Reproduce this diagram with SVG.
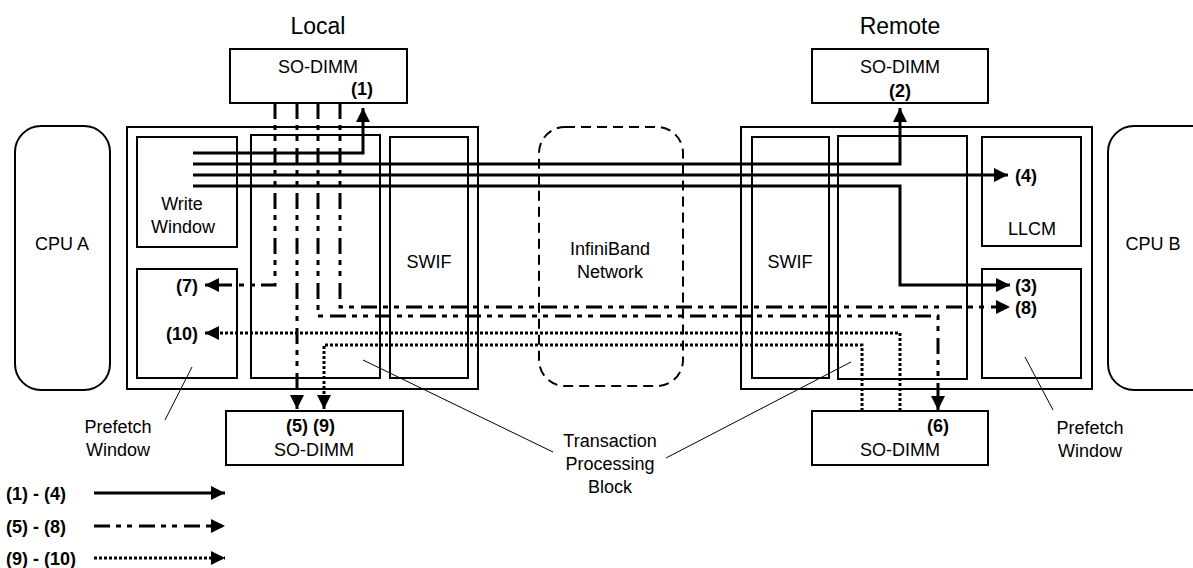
<svg xmlns="http://www.w3.org/2000/svg" width="1193" height="568" viewBox="0 0 1193 568">
<style>
  text { font-family: "Liberation Sans", Arial, sans-serif; fill: #000; }
  .t { font-size: 18px; text-anchor: middle; }
  .title { font-size: 23px; text-anchor: middle; }
  .lbl { font-size: 18px; font-weight: bold; }
  .box { fill: #fff; stroke: #000; stroke-width: 2; }
  .cpu { fill: #fff; stroke: #000; stroke-width: 2; }
  .net { fill: none; stroke: #000; stroke-width: 2; stroke-dasharray: 10 6; }
  .c { fill: none; stroke: #000; stroke-width: 3; }
  .solid { marker-end: url(#ah); }
  .dd { stroke-dasharray: 16 6 5 6 5 7; }
  .dot { stroke-dasharray: 3 2; }
  .lead { fill: none; stroke: #000; stroke-width: 1; }
</style>
<defs>
  <marker id="ah" markerUnits="userSpaceOnUse" markerWidth="14" markerHeight="14" refX="12" refY="6" orient="auto" viewBox="0 0 12 12">
    <path d="M0,0 L12,6 L0,12 Z" fill="#000"/>
  </marker>
</defs>
<rect width="1193" height="568" fill="#fff"/>

<text class="title" x="318" y="34">Local</text>
<text class="title" x="900" y="34">Remote</text>

<g id="cpu-a"><rect class="cpu" x="15" y="126" width="95" height="264" rx="26"/><text class="t" x="62" y="250">CPU A</text></g>
<g id="cpu-b"><rect class="cpu" x="1108" y="126" width="110" height="264" rx="26"/><text class="t" x="1153" y="250">CPU B</text></g>

<g id="local-block"><rect class="box" x="127" y="127" width="351" height="262"/></g>
<g id="local-write-window"><rect class="box" x="137" y="137" width="100" height="110"/><text class="t" x="182" y="210">Write</text><text class="t" x="183" y="233">Window</text></g>
<g id="local-prefetch-window"><rect class="box" x="137" y="269" width="100" height="109"/></g>
<g id="local-tpb"><rect class="box" x="251" y="135" width="129" height="243"/></g>
<g id="local-swif"><rect class="box" x="390" y="137" width="78" height="241"/><text class="t" x="429" y="268">SWIF</text></g>

<g id="remote-block"><rect class="box" x="741" y="127" width="351" height="262"/></g>
<g id="remote-swif"><rect class="box" x="752" y="137" width="77" height="241"/><text class="t" x="790" y="268">SWIF</text></g>
<g id="remote-tpb"><rect class="box" x="838" y="136" width="129" height="243"/></g>
<g id="remote-llcm"><rect class="box" x="982" y="137" width="99" height="109"/><text class="t" x="1032" y="235">LLCM</text></g>
<g id="remote-prefetch-window"><rect class="box" x="982" y="269" width="99" height="109"/></g>

<g id="infiniband"><rect class="net" x="539" y="127" width="144" height="259" rx="26"/><text class="t" x="610" y="255">InfiniBand</text><text class="t" x="610" y="278">Network</text></g>

<g id="local-sodimm-top"><rect class="box" x="230" y="49" width="177" height="54"/><text class="t" x="318" y="73">SO-DIMM</text></g>
<g id="remote-sodimm-top"><rect class="box" x="812" y="49" width="176" height="54"/><text class="t" x="900" y="73">SO-DIMM</text></g>
<g id="local-sodimm-bottom"><rect class="box" x="226" y="411" width="177" height="54"/><text class="t" x="314" y="456">SO-DIMM</text></g>
<g id="remote-sodimm-bottom"><rect class="box" x="812" y="411" width="176" height="54"/><text class="t" x="900" y="456">SO-DIMM</text></g>

<g id="connectors">
  <path class="c solid" d="M193,153 H363 V108"/>
  <path class="c solid" d="M193,164 H900 V108"/>
  <path class="c solid" d="M193,175 H1008"/>
  <path class="c solid" d="M193,186 H900 V285 H1010"/>
  <path class="c dd solid" d="M275,103 V285 H205"/>
  <path class="c dd solid" d="M297,103 V409"/>
  <path class="c dd solid" d="M318,103 V316 H938 V410"/>
  <path class="c dd solid" d="M340,103 V307 H1010"/>
  <path class="c dot solid" d="M900,411 V333 H205"/>
  <path class="c dot solid" d="M862,411 V345 H324 V409"/>
  <path class="lead" d="M192,367 L165,420"/>
  <path class="lead" d="M363,360 L553,452"/>
  <path class="lead" d="M851,362 L666,458"/>
  <path class="lead" d="M1025,357 L1053,410"/>
  <path class="c solid" d="M94,493 H225"/>
  <path class="c dd solid" d="M94,526 H225"/>
  <path class="c dot solid" d="M94,558 H225"/>
</g>

<g id="labels">
  <text class="lbl" x="362" y="95" text-anchor="middle">(1)</text>
  <text class="lbl" x="900" y="97" text-anchor="middle">(2)</text>
  <text class="lbl" x="1015" y="292">(3)</text>
  <text class="lbl" x="1015" y="182">(4)</text>
  <text class="lbl" x="297" y="432" text-anchor="middle">(5)</text>
  <text class="lbl" x="324" y="432" text-anchor="middle">(9)</text>
  <text class="lbl" x="938" y="432" text-anchor="middle">(6)</text>
  <text class="lbl" x="198" y="292" text-anchor="end">(7)</text>
  <text class="lbl" x="1015" y="314">(8)</text>
  <text class="lbl" x="198" y="340" text-anchor="end">(10)</text>
  <text class="t" x="118" y="433">Prefetch</text>
  <text class="t" x="118" y="456">Window</text>
  <text class="t" x="1090" y="434">Prefetch</text>
  <text class="t" x="1090" y="457">Window</text>
  <text class="t" x="610" y="447">Transaction</text>
  <text class="t" x="610" y="470">Processing</text>
  <text class="t" x="610" y="493">Block</text>
  <text class="lbl" x="6" y="500">(1) - (4)</text>
  <text class="lbl" x="6" y="533">(5) - (8)</text>
  <text class="lbl" x="6" y="565">(9) - (10)</text>
</g>
</svg>
